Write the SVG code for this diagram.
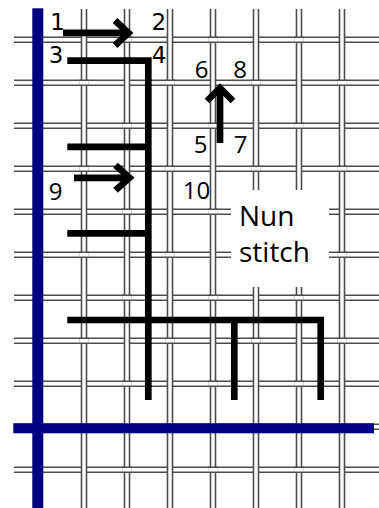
<svg xmlns="http://www.w3.org/2000/svg" xmlns:xlink="http://www.w3.org/1999/xlink" width="379" height="508" viewBox="0 0 379 508">
<style>
.dk{fill:none;stroke:#4d4d4d;stroke-width:6.6}
.wt{fill:none;stroke:#ffffff;stroke-width:3.4}
.blue{fill:#000080}
.st{fill:none;stroke:#000;stroke-width:6.7;stroke-linejoin:miter;stroke-linecap:butt}
.n1{font-family:"DejaVu Sans",sans-serif;font-size:23px;fill:#000;text-anchor:middle}
.n2{font-family:"Open Sans","Noto Sans",sans-serif;font-size:24px;fill:#000;text-anchor:middle}
.lbl{font-family:"Open Sans","Noto Sans",sans-serif;font-size:28px;fill:#000}
</style>
<defs>
<path id="hz" d="M14,39.7H379M14,82.7H379M14,125.7H379M14,168.7H379M14,211.7H379M14,254.7H379M14,297.7H379M14,340.7H379M14,383.7H379M14,426.7H379M14,469.7H379"/>
<path id="vt" d="M84,9V508M127,9V508M170,9V508M213,9V508M256,9V508M299,9V508M342,9V508"/>
<path id="pt" d="M79.4,82.7h9.2M79.4,168.7h9.2M79.4,254.7h9.2M79.4,340.7h9.2M79.4,426.7h9.2
M122.4,39.7h9.2M122.4,125.7h9.2M122.4,211.7h9.2M122.4,297.7h9.2M122.4,383.7h9.2M122.4,469.7h9.2
M165.4,82.7h9.2M165.4,168.7h9.2M165.4,254.7h9.2M165.4,340.7h9.2M165.4,426.7h9.2
M208.4,39.7h9.2M208.4,125.7h9.2M208.4,211.7h9.2M208.4,297.7h9.2M208.4,383.7h9.2M208.4,469.7h9.2
M251.4,82.7h9.2M251.4,168.7h9.2M251.4,254.7h9.2M251.4,340.7h9.2M251.4,426.7h9.2
M294.4,39.7h9.2M294.4,125.7h9.2M294.4,211.7h9.2M294.4,297.7h9.2M294.4,383.7h9.2M294.4,469.7h9.2
M337.4,82.7h9.2M337.4,168.7h9.2M337.4,254.7h9.2M337.4,340.7h9.2M337.4,426.7h9.2"/>
</defs>
<rect width="379" height="508" fill="#fff"/>
<g id="canvas-grid">
<use xlink:href="#hz" class="dk"/>
<use xlink:href="#hz" class="wt"/>
<use xlink:href="#vt" class="dk"/>
<use xlink:href="#vt" class="wt"/>
<use xlink:href="#pt" class="dk"/>
<use xlink:href="#pt" class="wt"/>
</g>
<g id="margin-lines">
<rect class="blue" x="32.3" y="8.3" width="11" height="499.7"/>
<rect class="blue" x="13.3" y="423.3" width="360.7" height="10"/>
</g>
<g id="title-box">
<rect x="231" y="190" width="98" height="97" fill="#fff"/>
<text class="lbl" x="239" y="225.8">Nun</text>
<text class="lbl" x="239" y="261.5">stitch</text>
</g>
<g id="connectors">
<path class="st" d="M63,32.8H128.5"/>
<path class="st" d="M115,20.5L128.5,33L115,45.5"/>
<path class="st" d="M67.3,60.7H148.3V400"/>
<path class="st" d="M67.3,146.8H148.3"/>
<path class="st" d="M67.3,233.4H148.3"/>
<path class="st" d="M74,177.8H129.5"/>
<path class="st" d="M115.5,165.3L129.5,177.8L115.5,190.3"/>
<path class="st" d="M220,143V88"/>
<path class="st" d="M207,101L220,88L233,101"/>
<path class="st" d="M67.3,320H320.7V400"/>
<path class="st" d="M234.3,320V400"/>
</g>
<g id="labels">
<text class="n1" x="57.5" y="30">1</text>
<text class="n1" x="158.7" y="30">2</text>
<text class="n1" x="56" y="63.3">3</text>
<text class="n1" x="159" y="63.3">4</text>
<text class="n2" x="200.7" y="152.7">5</text>
<text class="n2" x="201.5" y="78.3">6</text>
<text class="n2" x="240.7" y="152.7">7</text>
<text class="n2" x="240" y="78.3">8</text>
<text class="n2" x="55.5" y="200">9</text>
<text class="n2" x="196.4" y="198.5">10</text>
</g>
</svg>
